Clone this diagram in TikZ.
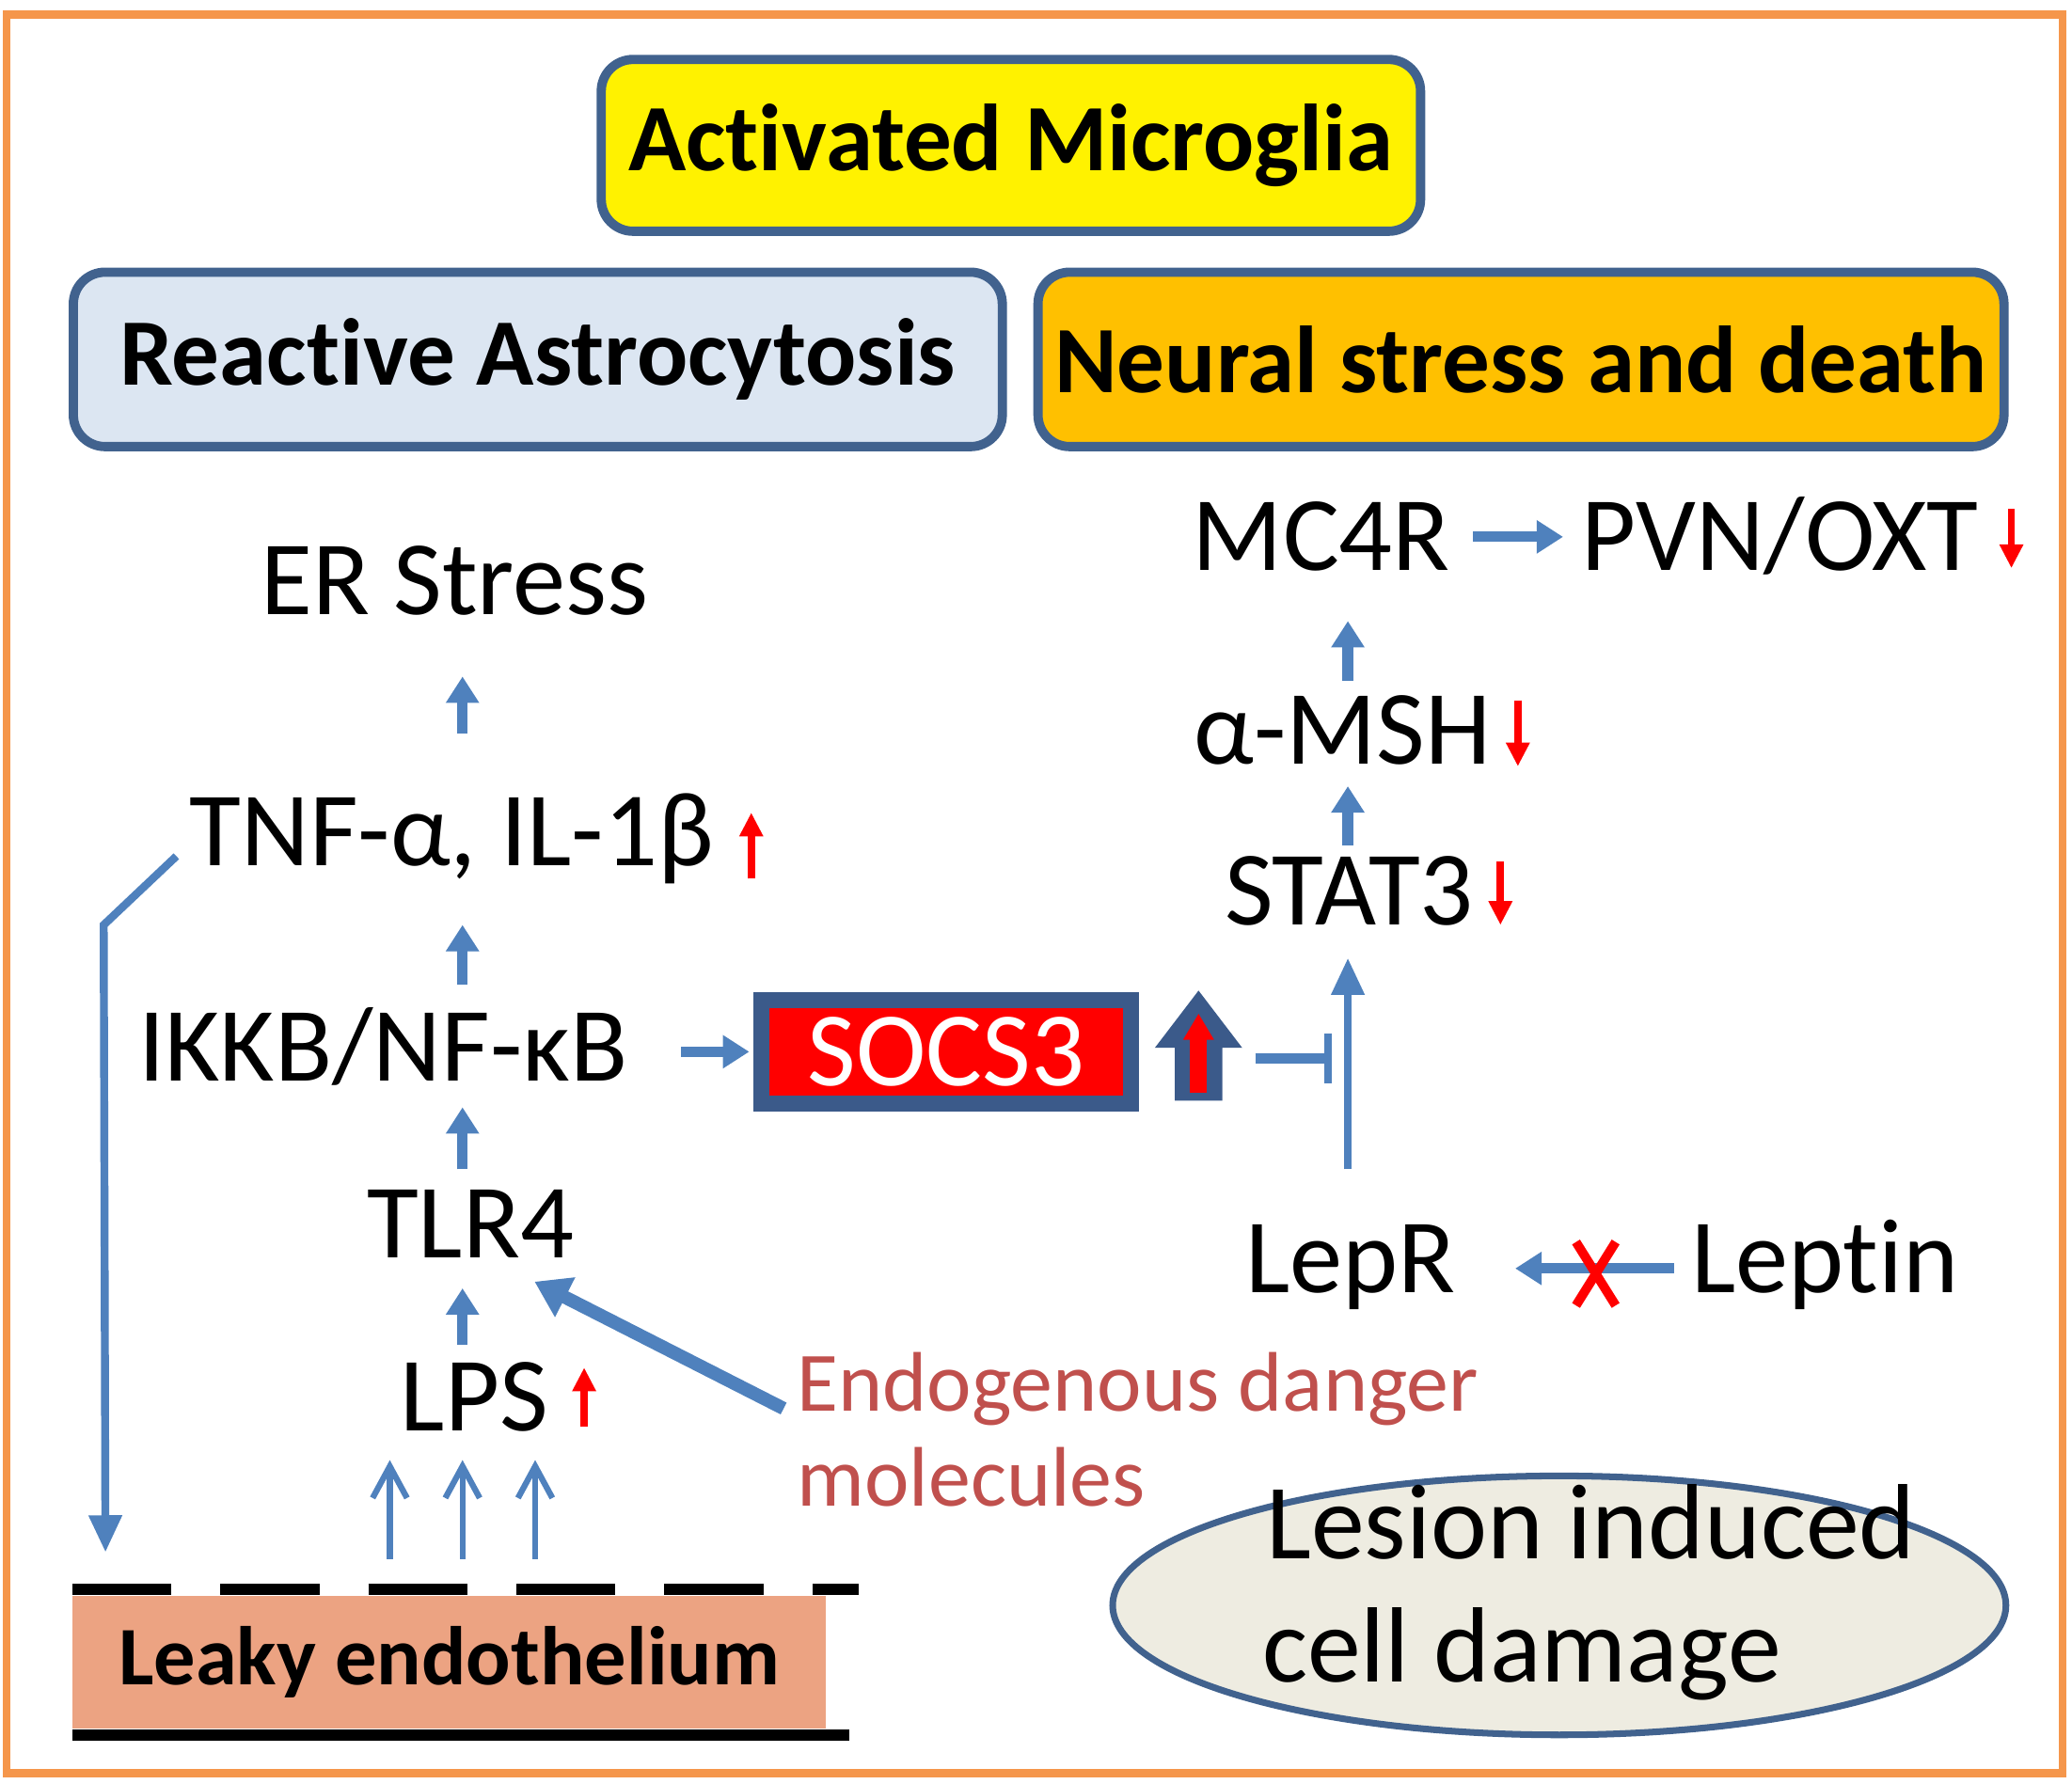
\documentclass[tikz,border=0pt]{standalone}
\usepackage{fontspec}
\setmainfont{Carlito}[Ligatures=CommonOff]
\usetikzlibrary{arrows.meta,shapes.geometric,calc}
\definecolor{frameor}{RGB}{245,150,75}
\definecolor{boxblue}{RGB}{65,98,142}
\definecolor{arrblue}{RGB}{79,129,189}
\definecolor{lightblue}{RGB}{220,230,242}
\definecolor{gold}{RGB}{255,192,0}
\definecolor{salmon}{RGB}{236,163,130}
\definecolor{endored}{RGB}{192,80,77}
\definecolor{lesionfill}{RGB}{238,236,225}
\definecolor{socsblue}{RGB}{59,90,138}
\tikzset{
  lbl/.style={inner sep=0pt, anchor=base, font=\fontsize{80}{84}\selectfont},
  titlebox/.style={draw=boxblue, line width=7pt, rounded corners=24pt, inner sep=0pt,
     font=\bfseries\fontsize{72}{76}\selectfont},
  fat/.style={draw=arrblue, line width=8pt, -{Triangle[width=24pt,length=20pt]}},
  thin/.style={draw=arrblue, line width=4.5pt, -{Straight Barb[width=26pt,length=24pt,line width=4.5pt]}},
  thinfilled/.style={draw=arrblue, line width=6pt, -{Triangle[width=24pt,length=28pt]}},
  redarr/.style={draw=red, line width=5.5pt, -{Triangle[width=17pt,length=18pt]}},
}
\begin{document}
\begin{tikzpicture}[x=1pt,y=-1pt]
\useasboundingbox (0,0) rectangle (1568,1350);
% frame
\draw[frameor, line width=6pt] (5,11) rectangle (1561,1342);

% title boxes
\node[titlebox, fill=yellow, minimum width=620pt, minimum height=130pt] (micro) at (765,110) {Activated Microglia};
\node[titlebox, fill=lightblue, minimum width=703pt, minimum height=132pt] (astro) at (407,272) {Reactive Astrocytosis};
\node[titlebox, fill=gold, minimum width=731pt, minimum height=132pt] (neural) at (1151,272) {Neural stress and death};

% left column
\node[lbl] (er) at (344,465) {ER Stress};
\node[lbl] (tnf) at (342,655) {TNF-α, IL-1β};
\node[lbl] (ikkb) at (290,818) {IKKB/NF-κB};
\node[lbl] (tlr4) at (356,952) {TLR4};
\node[lbl] (lps) at (359,1083) {LPS};

\draw[fat] ([xshift=8pt,yshift=100pt]tnf.base) -- ([xshift=6pt,yshift=-47pt]er.base);
\draw[fat] ([xshift=60pt,yshift=73pt]ikkb.base) -- ([xshift=8pt,yshift=-45pt]tnf.base);
\draw[fat] ([xshift=-6pt,yshift=67pt]tlr4.base) -- ([xshift=60pt,yshift=-20pt]ikkb.base);
\draw[fat] ([xshift=-9pt,yshift=65pt]lps.base) -- ([xshift=-6pt,yshift=-23pt]tlr4.base);

\draw[redarr] ([xshift=28pt,yshift=-10pt]tnf.base east) -- ++(0,-50);
\draw[redarr] ([xshift=27pt,yshift=3pt]lps.base east) -- ++(0,-45);

% leaky endothelium
\node[fill=salmon, minimum width=570pt, minimum height=100pt, inner sep=0pt,
  font=\bfseries\fontsize{63}{66}\selectfont] (leaky) at (340,1258) {Leaky endothelium};
\draw[black, line width=9pt, dash pattern=on 75pt off 37pt] ([yshift=5pt]leaky.north west) -- ++(595,0);
\draw[black, line width=9pt] ([yshift=-5pt]leaky.south west) -- ++(588,0);

\foreach \a/\b in {-45/-64, 10/-9, 65/46}
  \draw[thin] ([xshift=\a pt,yshift=28pt]leaky.north) -- ([xshift=\b pt,yshift=-22pt]lps.base);

% feedback
\draw[thinfilled] ([xshift=-10pt,yshift=7pt]tnf.base west) -- ++(-55,52) -- ([xshift=25pt,yshift=33pt]leaky.north west);

% endogenous
\node[inner sep=0pt, anchor=base west, text=endored, font=\fontsize{64}{66}\selectfont] (endo1) at (603,1068) {Endogenous danger};
\node[inner sep=0pt, anchor=base west, text=endored, font=\fontsize{64}{66}\selectfont] (endo2) at (603,1140) {molecules};
\draw[draw=arrblue, line width=10pt, -{Triangle[width=32pt,length=26pt]}] ([xshift=-10pt,yshift=2pt]endo1.base west) -- ([xshift=-30pt,yshift=-18pt]tlr4.base east);

% SOCS3
\node[draw=socsblue, fill=red, line width=12pt, minimum width=280pt, minimum height=78pt, inner sep=0pt,
  text=white, font=\fontsize{80}{84}\selectfont] (socs) at (716,796) {SOCS3};
\draw[fat] ([xshift=40pt]ikkb.east |- socs.west) -- ([xshift=-3pt]socs.west);
\coordinate (ba) at (907,753);
\draw[socsblue, fill=socsblue, line width=4pt, line join=miter] (ba) -- ++(29,38) -- ++(-13,0) -- ++(0,40) -- ++(-32,0) -- ++(0,-40) -- ++(-13,0) -- cycle;
\draw[red, line width=13pt, -{Triangle[width=22pt,length=20pt]}] ($(ba)+(0,74)$) -- ($(ba)+(0,14)$);

% right column
\node[lbl] (mc4r) at (1000,432) {MC4R};
\node[lbl] (pvn) at (1347,432) {PVN/OXT};
\node[lbl] (msh) at (1016,578) {α-MSH};
\node[lbl] (stat3) at (1021,700) {STAT3};
\node[lbl] (lepr) at (1022,978) {LepR};
\node[lbl] (leptin) at (1381,978) {Leptin};

\draw[fat] ([xshift=17pt]mc4r.east) -- ([xshift=-14pt]pvn.west |- mc4r.east);
\draw[fat] ([xshift=4pt,yshift=63pt]msh.base) -- ([xshift=20pt,yshift=-38pt]mc4r.base);
\draw[fat] ([xshift=-1pt,yshift=60pt]stat3.base) -- ([xshift=4pt,yshift=-17pt]msh.base);
\draw[thinfilled] ([xshift=-2pt,yshift=93pt]lepr.base) -- ([xshift=-1pt,yshift=-25pt]stat3.base);

\draw[redarr] ([xshift=20pt,yshift=48pt]stat3.base east) -- ++(0,48);
\draw[redarr] ([xshift=20pt,yshift=48pt]msh.base east) -- ++(0,50);
\draw[redarr] ([xshift=25pt,yshift=47pt]pvn.base east) -- ++(0,45);

% inhibition
\draw[draw=arrblue, line width=8pt] ($(ba)+(43,48)$) coordinate (inh0) -- ++(55,0) coordinate (inh1);
\draw[draw=arrblue, line width=6pt] ($(inh1)+(0,-19)$) -- ($(inh1)+(0,19)$);

% leptin -> lepR
\draw[fat] ([xshift=-13pt,yshift=18pt]leptin.base west) -- ([xshift=45pt,yshift=18pt]lepr.base east);
\coordinate (xc) at ($(leptin.base west)+(-72,-14)$);
\draw[red, line width=7pt] ($(xc)+(-15,-24)$) -- ($(xc)+(15,24)$);
\draw[red, line width=7pt] ($(xc)+(15,-24)$) -- ($(xc)+(-15,24)$);

% lesion
\node[ellipse, draw=boxblue, line width=5pt, fill=lesionfill, minimum width=676pt, minimum height=196pt] (lesion) at (1180,1215) {};
\node[inner sep=0pt, anchor=base west, font=\fontsize{81}{84}\selectfont] (les1) at (958,1180) {Lesion induced};
\node[inner sep=0pt, anchor=base west, font=\fontsize{81}{84}\selectfont] (les2) at (955,1273) {cell damage};
\end{tikzpicture}
\end{document}
